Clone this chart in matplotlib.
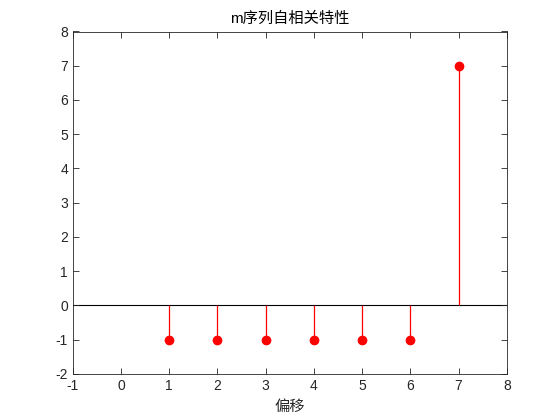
import matplotlib
matplotlib.use("Agg")
import matplotlib.pyplot as plt

plt.rcParams['font.family'] = ['Liberation Sans', 'Noto Sans CJK SC', 'DejaVu Sans']
plt.rcParams['axes.unicode_minus'] = False

# offsets and autocorrelation values
offset = [1, 2, 3, 4, 5, 6, 7]
corr = [-1, -1, -1, -1, -1, -1, 7]

fig = plt.figure(figsize=(5.6, 4.2), dpi=100)
ax = fig.add_axes([0.13, 0.11, 0.775, 0.815])

ax.axhline(0, color="black", linewidth=0.8, zorder=1)
ax.vlines(offset, 0, corr, color="red", linewidth=0.9, zorder=2)
ax.plot(offset, corr, "o", color="red", markersize=6, zorder=3)

ax.set_xlim(-1, 8)
ax.set_ylim(-2, 8)
ax.set_xticks(range(-1, 9))
ax.set_yticks(range(-2, 9))
ax.tick_params(direction="in", top=True, right=True, labelsize=10, length=4, width=0.6, colors="#262626")
for s in ax.spines.values():
    s.set_linewidth(0.6)
    s.set_color("#262626")

ax.set_title("m序列自相关特性", fontsize=11, color="black", family=['Liberation Sans', 'Noto Sans CJK SC'])
ax.set_xlabel("偏移", fontsize=11, color="#262626", family=['Noto Sans CJK SC'])

fig.savefig("out.png", dpi=100)
